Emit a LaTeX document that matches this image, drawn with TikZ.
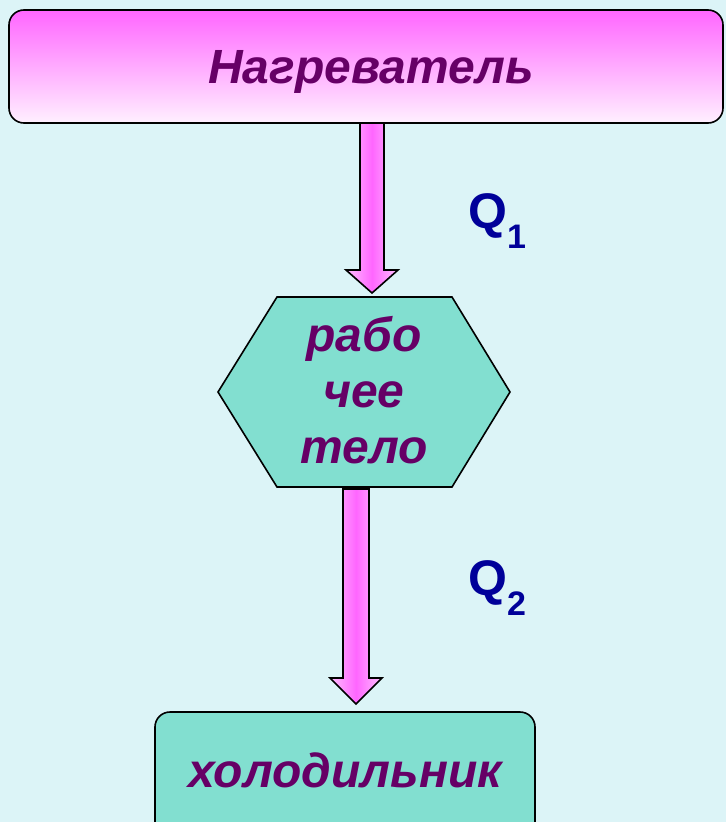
\documentclass[tikz,border=0pt]{standalone}
\usepackage{fontspec}
\setmainfont{Liberation Sans}
\usetikzlibrary{calc}
\definecolor{bgc}{RGB}{220,244,247}
\definecolor{txtp}{RGB}{102,0,102}
\definecolor{qblue}{RGB}{0,0,153}
\definecolor{teal1}{RGB}{130,223,208}
\definecolor{mag}{RGB}{255,102,255}
\definecolor{lpink}{RGB}{255,240,255}
\definecolor{apink}{RGB}{255,190,255}
\newcommand{\qsub}[1]{\raisebox{-20pt}{\fontsize{34}{34}\selectfont #1}}
\tikzset{
  lbl/.style={font=\fontsize{48}{56}\selectfont\bfseries\itshape, text=txtp, align=center},
  qlbl/.style={font=\fontsize{50}{60}\selectfont\bfseries, text=qblue, anchor=base west, inner sep=0pt},
  outl/.style={draw=black, line width=1.6pt, line join=miter},
  blockarrow/.style={outl, left color=apink, right color=apink, middle color=mag, shading angle=90},
}
\begin{document}
\begin{tikzpicture}[x=1pt,y=-1pt]
\fill[bgc] (0,0) rectangle (726,822);
\useasboundingbox (0,0) rectangle (726,822);
% top box
\draw[outl, rounded corners=15pt, top color=mag, bottom color=lpink] (9,10) rectangle (723,123);
\node[lbl, anchor=base] (heater) at (371,83) {Нагреватель};
\coordinate (topS) at (372,123);
% hexagon
\draw[outl, fill=teal1] (277,297) -- (452,297) -- (510,392) -- (452,487) -- (277,487) -- (218,392) -- cycle;
\node[lbl] (body) at (364,390) {рабо\\чее\\тело};
\coordinate (hexN) at (372,293);
\coordinate (hexS) at (356,489);
% bottom box
\draw[outl, rounded corners=15pt, fill=teal1] (155,712) rectangle (535,840);
\node[lbl, anchor=base] (cold) at (345,787) {холодильник};
\coordinate (coldN) at (356,704);
% arrow 1
\draw[blockarrow] ($(topS)+(-12,0)$) -- ($(hexN)+(-12,-23)$) -- ($(hexN)+(-26,-23)$) -- (hexN) -- ($(hexN)+(26,-23)$) -- ($(hexN)+(12,-23)$) -- ($(topS)+(12,0)$) -- cycle;
% arrow 2
\draw[blockarrow] ($(hexS)+(-13,0)$) -- ($(coldN)+(-13,-26)$) -- ($(coldN)+(-26,-26)$) -- (coldN) -- ($(coldN)+(26,-26)$) -- ($(coldN)+(13,-26)$) -- ($(hexS)+(13,0)$) -- cycle;
% labels
\node[qlbl] (q1) at (468,228) {Q\qsub{1}};
\node[qlbl] (q2) at (468,595) {Q\qsub{2}};
\end{tikzpicture}
\end{document}
